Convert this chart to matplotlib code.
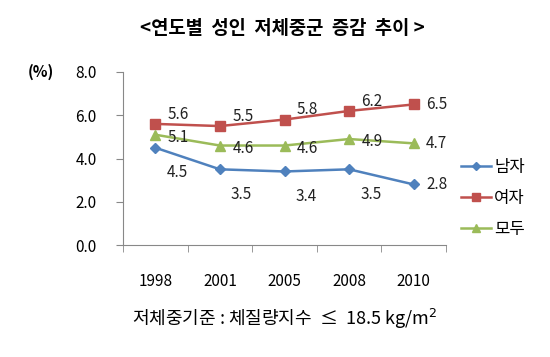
import matplotlib
matplotlib.use("Agg")
import matplotlib.pyplot as plt

plt.rcParams['font.family'] = ['Noto Sans CJK KR', 'DejaVu Sans']

years = ['1998', '2001', '2005', '2008', '2010']
male = [4.5, 3.5, 3.4, 3.5, 2.8]
female = [5.6, 5.5, 5.8, 6.2, 6.5]
total = [5.1, 4.6, 4.6, 4.9, 4.7]
series_names = ['남자', '여자', '모두']
y_ticks = [0.0, 2.0, 4.0, 6.0, 8.0]

fig = plt.figure(figsize=(5.5, 3.57), dpi=100)
ax = fig.add_axes([123/550, 1-245/357, (446-123)/550, (245-72)/357])

x = list(range(len(years)))
ax.plot(x, male, color='#4F81BD', marker='D', markersize=5, lw=1.8, label=series_names[0])
ax.plot(x, female, color='#C0504D', marker='s', markersize=7, lw=1.8, label=series_names[1])
ax.plot(x, total, color='#9BBB59', marker='^', markersize=7, lw=1.8, label=series_names[2])

fs = 11
last = len(years) - 1
for i, v in enumerate(male):
    off = (9, 0) if i == last else (8, -18)
    ax.annotate(f'{v:.1f}', (i, v), xytext=off, textcoords='offset points', fontsize=fs, color='#222222', va='center', ha='left')
for i, v in enumerate(female):
    dy = 0 if i == last else 7
    ax.annotate(f'{v:.1f}', (i, v), xytext=(9, dy), textcoords='offset points', fontsize=fs, color='#222222', va='center', ha='left')
for i, v in enumerate(total):
    dy = 0 if i == last else -2
    ax.annotate(f'{v:.1f}', (i, v), xytext=(9, dy), textcoords='offset points', fontsize=fs, color='#222222', va='center', ha='left')

ax.set_xlim(-0.5, len(years)-0.5)
ax.set_ylim(0, 8)
ax.set_yticks(y_ticks)
ax.set_yticklabels([f'{t:.1f}' for t in y_ticks], fontsize=11)
ax.set_xticks(x)
ax.set_xticklabels(years, fontsize=11)
ax.set_xticks([i - 0.5 for i in range(len(years)+1)], minor=True)
ax.tick_params(axis='x', which='major', length=0, pad=20)
ax.tick_params(axis='x', which='minor', length=5, color='#888888')
ax.tick_params(axis='y', length=5, color='#888888', pad=14)
for s in ['top', 'right']:
    ax.spines[s].set_visible(False)
for s in ['left', 'bottom']:
    ax.spines[s].set_color('#888888')

fig.text(41/550, 1-72/357, '(%)', fontsize=11, ha='center', va='center', fontweight='bold')
fig.text(282/550, 1-29/357, '<연도별  성인  저체중군  증감  추이 >', fontsize=13.5, ha='center', va='center', fontweight='bold')
fig.text(285/550, 1-319/357, '저체중기준 : 체질량지수  ≤  18.5 kg/m$^2$', fontsize=13, ha='center', va='center')

leg = ax.legend(loc='center left', bbox_to_anchor=(1.0, 0.27), frameon=False, fontsize=12,
                handlelength=1.8, handletextpad=0.2, labelspacing=0.85, markerscale=0.75)

fig.savefig('out.png', dpi=100)
